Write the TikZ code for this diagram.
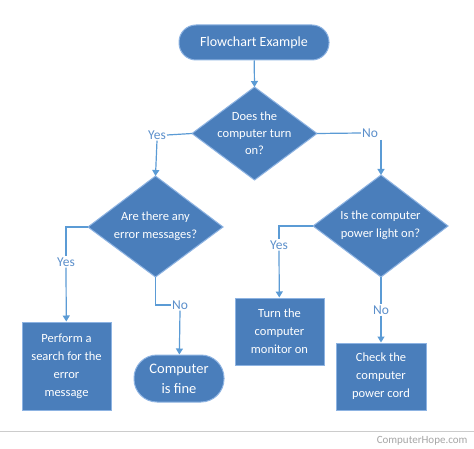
\documentclass[tikz,border=0pt]{standalone}
\usepackage{fontspec}
\setmainfont{Carlito}
\usetikzlibrary{shapes.geometric,arrows.meta}
\definecolor{fc}{HTML}{4A7EBB}
\definecolor{bc}{HTML}{8DB3E2}
\definecolor{lc}{HTML}{5B9BD5}
\definecolor{tl}{HTML}{5B8FCB}
\begin{document}
\begin{tikzpicture}[x=1pt,y=-1pt,
  every node/.style={font=\fontsize{12.5}{15}\selectfont},
  box/.style={draw=bc,line width=1pt,fill=fc,text=white,align=center,inner sep=0pt},
  dia/.style={diamond,draw=bc,line width=1pt,fill=fc,text=white,align=center,inner sep=0pt,minimum width=#1},
  lab/.style={text=tl,font=\fontsize{13.5}{15}\selectfont,inner sep=1pt},
  ln/.style={draw=lc,line width=1.2pt},
  ar/.style={ln,-{Triangle[width=7pt,length=6pt]}}]
\useasboundingbox (0,0) rectangle (474,449);
\fill[white] (0,0) rectangle (474,449);
\node[box,rounded corners=17pt,minimum width=150pt,minimum height=35pt,font=\fontsize{14}{16}\selectfont] (start) at (254,42.5) {Flowchart Example};
\node[box,diamond,minimum width=0pt,minimum height=0pt] (d1) at (254.5,133.5) {};
\path[box,fill=fc] (254.5,87) coordinate (d1t) -- (317,133.5) coordinate (d1r) -- (254.5,180) coordinate (d1b) -- (192,133.5) coordinate (d1l) -- cycle;
\node[text=white,align=center,font=\fontsize{12.5}{17}\selectfont] (t1) at (254.5,133.5) {Does the\\computer turn\\on?};
\path[box,fill=fc] (155.5,176) coordinate (d2t) -- (223,227) coordinate (d2r) -- (155.5,277) coordinate (d2b) -- (88,227) coordinate (d2l) -- cycle;
\node[text=white,align=center,font=\fontsize{12.5}{18}\selectfont] (t2) at (155.5,226) {Are there any\\error messages?};
\path[box,fill=fc] (381,175) coordinate (d3t) -- (448,226) coordinate (d3r) -- (381,277) coordinate (d3b) -- (313,226) coordinate (d3l) -- cycle;
\node[text=white,align=center,font=\fontsize{12.5}{18}\selectfont] (t3) at (380.5,225) {Is the computer\\power light on?};
\node[box,minimum width=89pt,minimum height=88pt,font=\fontsize{12.5}{18}\selectfont] (b1) at (66.5,366) {Perform a\\search for the\\error\\message};
\node[box,rounded corners=23pt,minimum width=90pt,minimum height=47pt,font=\fontsize{14.5}{20}\selectfont] (b2) at (179,378.5) {Computer\\is fine};
\node[box,minimum width=89pt,minimum height=67pt,font=\fontsize{12.5}{18}\selectfont] (b3) at (279.5,331.5) {Turn the\\computer\\monitor on};
\node[box,minimum width=90pt,minimum height=67pt,font=\fontsize{12.5}{18}\selectfont] (b4) at (381,376.5) {Check the\\computer\\power cord};
\draw[ar] (start) -- (d1t);
\node[lab] (y1) at (157,135) {Yes};
\node[lab] (n1) at (370,133) {No};
\draw[ln] (d1l) -- (y1.east);
\draw[ar] (y1.south) -- (d2t);
\draw[ln] (d1r) -- (n1.west);
\coordinate (c1) at (381,140);
\draw[ar] (c1) -- (d3t);
\node[lab] (y2) at (66,262) {Yes};
\draw[ln] (d2l) -| (y2.north);
\draw[ar] (y2.south) -- (b1);
\node[lab] (n2) at (180,305) {No};
\draw[ln] (d2b) |- (n2.west);
\draw[ar] (n2.south) -- (b2);
\node[lab] (y3) at (279,245) {Yes};
\draw[ln] (d3l) -| (y3.north);
\draw[ar] (y3.south) -- (b3);
\node[lab] (n3) at (381,310) {No};
\draw[ln] (d3b) -- (n3.north);
\draw[ar] (n3.south) -- (b4);
\draw[gray!40,line width=0.8pt] (0,431) -- (474,431);
\node[text=gray!70,anchor=east,font=\fontsize{11}{13}\selectfont] (ch) at (471,441) {ComputerHope.com};
\end{tikzpicture}
\end{document}
